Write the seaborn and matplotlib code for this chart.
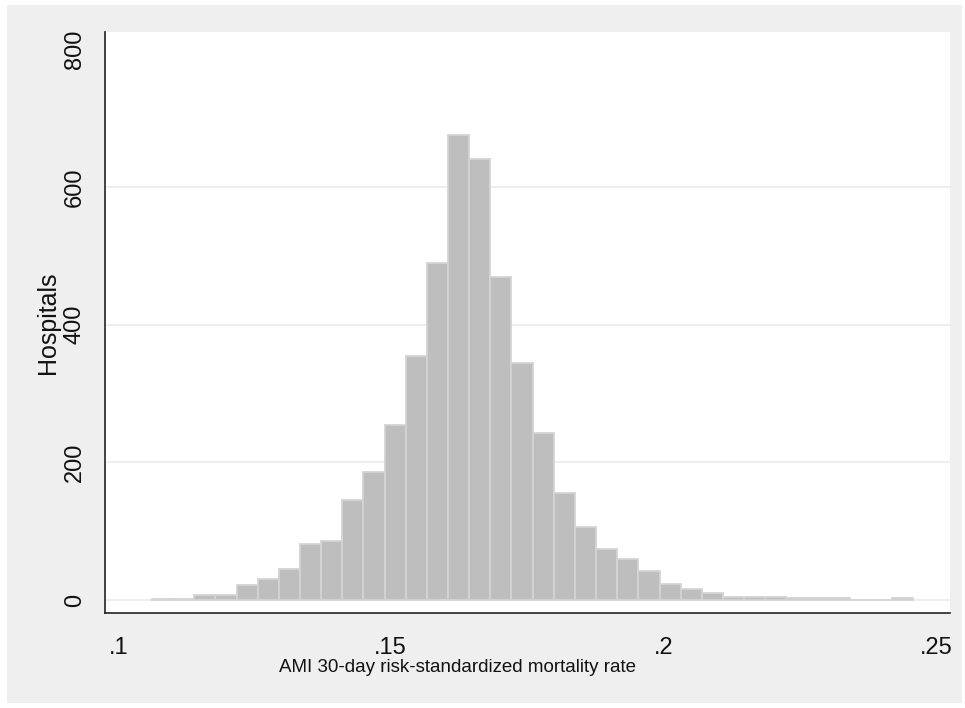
import numpy as np
import pandas as pd
import matplotlib
matplotlib.use("Agg")
import matplotlib.pyplot as plt
import seaborn as sns
from matplotlib.patches import Rectangle

# histogram of hospital AMI 30-day mortality rates (36 bins)
bin_start = 0.1062
bin_width = 0.00388
counts = [2, 2, 7, 7, 22, 31, 45, 81, 86, 145,
          186, 255, 354, 490, 676, 641, 470, 345, 243, 156,
          106, 75, 60, 43, 23, 16, 11, 5, 5, 5,
          3, 3, 3, 0, 0, 3]
x_ticks = [0.10, 0.15, 0.20, 0.25]
x_ticklabels = [".1", ".15", ".2", ".25"]
y_ticks = [0, 200, 400, 600, 800]

edges = bin_start + bin_width * np.arange(len(counts) + 1)
df = pd.DataFrame({"rate": (edges[:-1] + edges[1:]) / 2,
                   "n": np.array(counts, dtype=float)})

sns.set_style("white")
plt.rcParams['font.family'] = ['Liberation Sans', 'DejaVu Sans']

fig = plt.figure(figsize=(9.65, 7.08), dpi=100)
fig.patch.set_facecolor("white")
# stata-like grey graph region
fig.patches.append(Rectangle((7/965, 1 - 703/708), 955/965, 698/708,
                             transform=fig.transFigure, facecolor="#efefef",
                             edgecolor="none", zorder=-10))

ax = fig.add_axes([0.1083, 0.1338, 0.8762, 0.8217])
ax.set_facecolor("white")

for y in y_ticks[:-1]:
    ax.axhline(y, color="#eaeaea", lw=1.1, zorder=0)

# bins must be a list here, seaborn compares it against "auto"
sns.histplot(data=df, x="rate", weights="n", bins=list(edges), ax=ax,
             color="#bebebe", edgecolor="#d4d4d4", linewidth=1.3,
             alpha=1, zorder=2)

ax.set_xlim(0.09749, 0.25262)
ax.set_ylim(-19, 826)
ax.set_xticks(x_ticks)
ax.set_xticklabels(x_ticklabels)
ax.set_yticks(y_ticks)
ax.set_yticklabels([str(v) for v in y_ticks], rotation=90, va="center")

for side in ["top", "right"]:
    ax.spines[side].set_visible(False)
for side in ["left", "bottom"]:
    ax.spines[side].set_color("#222222")
    ax.spines[side].set_linewidth(1.2)

ax.tick_params(axis="both", length=5.5, width=1.1, color="#222222",
               labelsize=17, labelcolor="#111111")
ax.tick_params(axis="x", pad=11.5)
ax.tick_params(axis="y", pad=8)

ax.set_xlabel("AMI 30-day risk-standardized mortality rate", fontsize=13.5,
              color="#111111")
ax.xaxis.set_label_coords(0.417, -0.079)
ax.set_ylabel("Hospitals", fontsize=18, color="#111111")
ax.yaxis.set_label_coords(-0.053, 0.5)

fig.savefig("out.png", dpi=100)
